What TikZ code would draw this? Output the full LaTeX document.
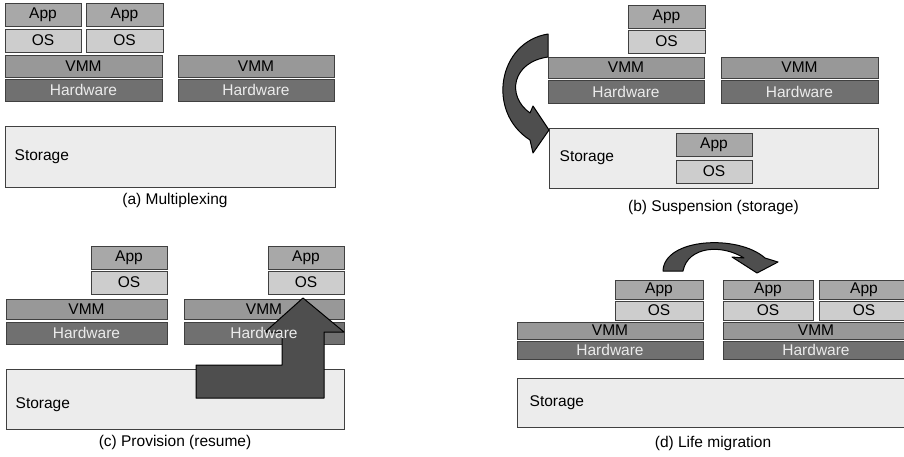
\documentclass[tikz,border=0pt]{standalone}
\usepackage{fontspec}
\setmainfont{Liberation Sans}
\usetikzlibrary{positioning}

\definecolor{appgray}{RGB}{168,168,168}
\definecolor{osgray}{RGB}{205,205,205}
\definecolor{vmmgray}{RGB}{152,152,152}
\definecolor{hwgray}{RGB}{112,112,112}
\definecolor{storegray}{RGB}{236,236,236}
\definecolor{arrowgray}{RGB}{78,78,78}

\begin{document}
\begin{tikzpicture}[x=1pt, y=-1pt,
  box/.style={draw=black!75, line width=1pt, inner sep=0pt, minimum height=23pt,
    font=\fontsize{15.5}{16}\selectfont},
  app/.style={box, fill=appgray},
  os/.style={box, fill=osgray},
  vmm/.style={box, fill=vmmgray},
  hw/.style={box, fill=hwgray, text=white!92!black},
  storage/.style={box, fill=storegray},
  storetext/.style={inner sep=0pt, font=\fontsize{15.5}{16}\selectfont},
  caption/.style={font=\fontsize{15.5}{16}\selectfont},
  bigarrow/.style={draw=black, line width=1pt, fill=arrowgray, line join=round}]
  \useasboundingbox (0,0) rectangle (904,456);

  % (a) multiplexing
  \node[app, minimum width=76pt] (appa1) at (43,14.5) {App};
  \node[os, minimum width=76pt] (osa1) at (43,40.5) {OS};
  \node[app, minimum width=77pt] (appa2) at (124.5,14.5) {App};
  \node[os, minimum width=77pt] (osa2) at (124.5,40.5) {OS};
  \node[vmm, minimum width=157pt, minimum height=22pt] (vmma1) at (83.5,66) {VMM};
  \node[hw, minimum width=157pt, minimum height=22pt] (hwa1) at (83.5,90) {Hardware};
  \node[vmm, minimum width=156pt, minimum height=22pt] (vmma2) at (256,66) {VMM};
  \node[hw, minimum width=156pt, minimum height=22pt] (hwa2) at (256,90) {Hardware};
  \node[storage, minimum width=330pt, minimum height=61pt] (storea) at (170,156.5) {};
  \node[storetext, right=10pt of storea.west] (storetexta) {Storage};
  \node[caption] (capa) at (175,200) {(a) Multiplexing};

  % (b) suspension
  \node[app, minimum width=77pt] (appb) at (666.5,16.5) {App};
  \node[os, minimum width=77pt] (osb) at (666.5,41.5) {OS};
  \node[vmm, minimum width=156pt, minimum height=21pt] (vmmb1) at (626,67.5) {VMM};
  \node[hw, minimum width=156pt] (hwb1) at (626,91.5) {Hardware};
  \node[vmm, minimum width=157pt, minimum height=21pt] (vmmb2) at (799.5,67.5) {VMM};
  \node[hw, minimum width=157pt] (hwb2) at (799.5,91.5) {Hardware};
  \node[storage, minimum width=329pt, minimum height=60pt] (storeb) at (713.5,158) {};
  \node[storetext, right=11pt of storeb.west] (storetextb) {Storage};
  \node[app, minimum width=76pt] (appbs) at (714,144.5) {App};
  \node[os, minimum width=76pt] (osbs) at (714,171.5) {OS};
  \node[caption] (capb) at (713.5,207) {(b) Suspension (storage)};
  \draw[bigarrow] (548,34) .. controls (498,42) and (486,112) .. (530,140)
    -- (533,153) -- (549,130) -- (533,106) -- (530,113)
    .. controls (506,96) and (512,62) .. (548,57) -- cycle;

  % (c) provision
  \node[app, minimum width=76pt] (appc1) at (129,257.5) {App};
  \node[os, minimum width=76pt] (osc1) at (129,282.5) {OS};
  \node[vmm, minimum width=161pt, minimum height=20pt] (vmmc1) at (86.5,309) {VMM};
  \node[hw, minimum width=161pt, minimum height=22pt] (hwc1) at (86.5,333) {Hardware};
  \node[app, minimum width=76pt] (appc2) at (306,257.5) {App};
  \node[os, minimum width=76pt] (osc2) at (306,282.5) {OS};
  \node[vmm, minimum width=160pt, minimum height=20pt] (vmmc2) at (264,309) {};
  \node[hw, minimum width=160pt, minimum height=22pt] (hwc2) at (264,333) {};
  \node[storage, minimum width=338pt, minimum height=60pt] (storec) at (175,399) {};
  \node[storetext, right=10pt of storec.west, yshift=-6pt] (storetextc) {Storage};
  \node[caption] (capc) at (175,442) {(c) Provision (resume)};
  \draw[bigarrow] (303,298) -- (344,332) -- (324,332) -- (324,398) -- (196,398)
    -- (196,365) -- (282,365) -- (282,332) -- (265,332) -- cycle;
  % texts stay above the arrow
  \node[storetext] (vmmc2text) at (vmmc2) {VMM};
  \node[storetext, text=white!92!black] (hwc2text) at (hwc2) {Hardware};

  % (d) life migration
  \node[app, minimum width=88pt, minimum height=19pt] (appd1) at (659,289.5) {App};
  \node[os, minimum width=88pt, minimum height=19pt] (osd1) at (659,310.5) {OS};
  \node[vmm, minimum width=186pt, minimum height=17pt] (vmmd1) at (610,330.5) {VMM};
  \node[hw, minimum width=186pt, minimum height=18pt] (hwd1) at (610,350) {Hardware};
  \node[app, minimum width=90pt, minimum height=19pt] (appd2) at (768,289.5) {App};
  \node[os, minimum width=90pt, minimum height=19pt] (osd2) at (768,310.5) {OS};
  \node[app, minimum width=90pt, minimum height=19pt] (appd3) at (864,289.5) {App};
  \node[os, minimum width=90pt, minimum height=19pt] (osd3) at (864,310.5) {OS};
  \node[vmm, minimum width=186pt, minimum height=17pt] (vmmd2) at (816,330.5) {VMM};
  \node[hw, minimum width=186pt, minimum height=18pt] (hwd2) at (816,350) {Hardware};
  \node[storage, minimum width=400pt, minimum height=49pt] (stored) at (717,402.5) {};
  \node[storetext, right=13pt of stored.west] (storetextd) {Storage};
  \node[caption] (capd) at (713,443) {(d) Life migration};
  \draw[bigarrow] (663,271) .. controls (664,238) and (738,234) .. (765,258)
    -- (778,262) -- (757,273) -- (732,257) -- (744,258)
    .. controls (722,244) and (688,246) .. (683,271) -- cycle;
\end{tikzpicture}
\end{document}
